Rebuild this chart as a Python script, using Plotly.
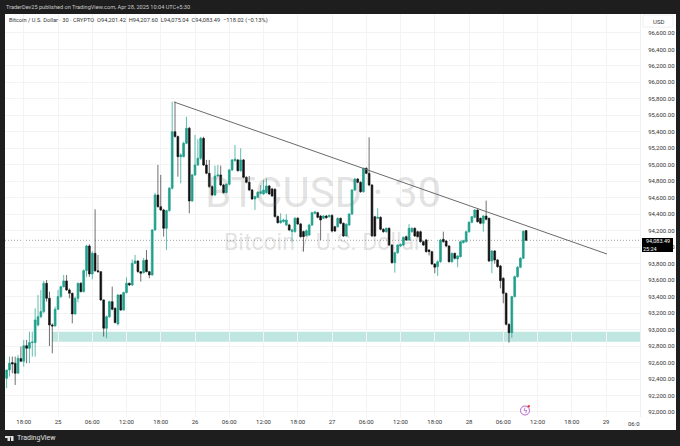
import pandas as pd
import plotly.graph_objects as go

# 30 minute candles, Apr 24 15:00 to Apr 28 10:00
first_candle = "2025-04-24 15:00"

opens = [92409, 92510, 92599, 92591, 92470, 92648, 92615, 92805, 92773, 92842,
         92842, 93056, 93157, 93218, 93562, 93380, 93056, 93044, 93246, 93400,
         93521, 93590, 93481, 93440, 93190, 93380, 93562, 93461, 93715, 94015,
         93675, 93926, 93715, 93703, 93360, 93016, 93157, 93339, 93258, 93068,
         93420, 93238, 93449, 93562, 93541, 93804, 93833, 93703, 93691, 93845,
         93703, 93663, 94209, 94634, 94492, 94452, 94229, 94444, 94715, 95402,
         95342, 95099, 95099, 95261, 95443, 94561, 94877, 94998, 95079, 95321,
         94998, 94897, 94735, 94634, 94864, 94877, 94755, 94662, 94763, 94937,
         95050, 95059, 94929, 95059, 94848, 94788, 94695, 94585, 94605, 94654,
         94646, 94662, 94743, 94707, 94703, 94371, 94298, 94310, 94270, 94270,
         94189, 94189, 94351, 94282, 94189, 94140, 94148, 94269, 94411, 94419,
         94378, 94350, 94378, 94370, 94386, 94249, 94249, 94350, 94289, 94136,
         94269, 94403, 94694, 94827, 94787, 94674, 94957, 94896, 94755, 94370,
         94350, 94362, 94217, 94188, 94229, 94026, 93812, 93933, 94014, 94026,
         94128, 94087, 94188, 94229, 94188, 94188, 94067, 94087, 93966, 93946,
         93796, 93764, 93824, 94095, 94075, 94014, 93824, 93925, 93857, 93885,
         94055, 94067, 94188, 94302, 94362, 94451, 94350, 94290, 94378, 94350,
         93832, 93954, 93845, 93772, 93622, 93440, 93064, 92963, 93400, 93642,
         93756, 93865, 94201.42]

highs = [92510, 92672, 92672, 92672, 92692, 92793, 92874, 92874, 92975, 92975,
         93258, 93420, 93481, 93590, 93602, 93461, 93076, 93279, 93481, 93530,
         93663, 93663, 93500, 93450, 93400, 93570, 93575, 93730, 94030, 94035,
         93950, 94460, 93906, 93710, 93365, 93170, 93350, 93521, 93270, 93430,
         93430, 93460, 93635, 93570, 93850, 93906, 93840, 93710, 93870, 93966,
         93710, 94220, 94660, 94998, 94877, 94465, 94455, 94730, 95766, 95766,
         95355, 95140, 95280, 95584, 95460, 94890, 95362, 95309, 95340, 95340,
         95059, 95059, 94750, 94990, 94998, 94990, 94770, 94775, 94950, 95070,
         95241, 95070, 95200, 95070, 94860, 94864, 94705, 94625, 94680, 94755,
         94816, 94836, 94755, 94720, 94715, 94385, 94411, 94345, 94400, 94285,
         94225, 94365, 94365, 94295, 94200, 94215, 94285, 94430, 94440, 94430,
         94390, 94390, 94390, 94395, 94400, 94260, 94360, 94360, 94300, 94290,
         94412, 94705, 94840, 94840, 94800, 94968, 94970, 95333, 94765, 94380,
         94471, 94375, 94230, 94240, 94240, 94035, 93945, 94035, 94045, 94130,
         94140, 94280, 94240, 94240, 94200, 94200, 94080, 94100, 93975, 93955,
         93805, 93840, 94100, 94188, 94085, 94025, 93935, 93935, 93905, 94080,
         94090, 94200, 94315, 94380, 94460, 94460, 94360, 94390, 94565, 94360,
         93965, 93965, 93855, 93785, 93635, 93450, 93075, 93410, 93655, 93770,
         93880, 94205, 94207.60]

lows = [92288, 92429, 92470, 92328, 92470, 92611, 92550, 92591, 92591, 92672,
        92672, 93036, 93137, 93197, 93340, 92801, 92712, 93036, 93238, 93385,
        93510, 93470, 93380, 93076, 93180, 93330, 93450, 93450, 93640, 93640,
        93610, 93700, 93690, 93350, 92915, 92895, 93140, 93235, 93075, 93050,
        93225, 93230, 93440, 93530, 93530, 93795, 93690, 93582, 93680, 93695,
        93622, 93655, 94200, 94480, 94440, 94128, 93966, 94430, 94700, 95330,
        94856, 94775, 95090, 95250, 94411, 94550, 94865, 94985, 95060, 94985,
        94885, 94720, 94620, 94620, 94850, 94740, 94650, 94650, 94750, 94925,
        95040, 94915, 94915, 94835, 94775, 94680, 94575, 94452, 94595, 94640,
        94635, 94650, 94635, 94610, 94360, 94285, 94285, 94300, 94255, 94195,
        94068, 94175, 94270, 94115, 93946, 94130, 94135, 94255, 94400, 94350,
        94087, 94340, 94345, 94360, 94180, 94185, 94236, 94278, 94125, 94125,
        94258, 94390, 94680, 94775, 94660, 94660, 94885, 94740, 94125, 94125,
        94340, 94205, 94175, 94175, 94015, 93800, 93691, 93920, 94000, 94015,
        94075, 94075, 94175, 94125, 94115, 94055, 94015, 93935, 93900, 93785,
        93683, 93650, 93810, 94055, 94000, 93812, 93812, 93850, 93756, 93875,
        94045, 94055, 94175, 94290, 94350, 94298, 94278, 94188, 94325, 93820,
        93683, 93800, 93750, 93500, 93319, 93050, 92841, 92900, 93390, 93630,
        93745, 93855, 94075.04]

closes = [92510, 92591, 92583, 92470, 92652, 92615, 92805, 92773, 92842, 92850,
          93117, 93157, 93218, 93562, 93380, 93056, 93044, 93246, 93400, 93521,
          93590, 93481, 93440, 93190, 93380, 93562, 93461, 93715, 94015, 93675,
          93926, 93715, 93703, 93360, 93016, 93157, 93339, 93246, 93085, 93420,
          93238, 93449, 93562, 93541, 93804, 93833, 93703, 93683, 93837, 93703,
          93663, 94209, 94634, 94492, 94452, 94229, 94444, 94715, 95402, 95342,
          95099, 95119, 95261, 95443, 94561, 94877, 94998, 95079, 95321, 94998,
          94897, 94735, 94634, 94864, 94877, 94755, 94662, 94763, 94937, 95059,
          95067, 94929, 95059, 94848, 94788, 94695, 94585, 94614, 94666, 94674,
          94695, 94743, 94646, 94622, 94371, 94298, 94322, 94330, 94330, 94209,
          94209, 94351, 94282, 94128, 94128, 94200, 94269, 94419, 94427, 94362,
          94330, 94378, 94358, 94386, 94196, 94196, 94350, 94289, 94136, 94277,
          94403, 94694, 94827, 94787, 94674, 94957, 94896, 94755, 94136, 94136,
          94362, 94217, 94188, 94229, 94026, 93812, 93933, 94026, 94034, 94120,
          94087, 94229, 94229, 94136, 94128, 94067, 94026, 93946, 93946, 93796,
          93756, 93824, 94087, 94067, 94014, 93824, 93925, 93865, 93893, 94067,
          94079, 94188, 94302, 94370, 94451, 94310, 94290, 94378, 94338, 93832,
          93954, 93845, 93764, 93594, 93440, 93064, 92963, 93400, 93642, 93756,
          93865, 94192, 94083.49]

price_ticks = list(range(92000, 96800, 200))

time_ticks = ["2025-04-24 18:00", "2025-04-25 00:00", "2025-04-25 06:00", "2025-04-25 12:00",
              "2025-04-25 18:00", "2025-04-26 00:00", "2025-04-26 06:00", "2025-04-26 12:00",
              "2025-04-26 18:00", "2025-04-27 00:00", "2025-04-27 06:00", "2025-04-27 12:00",
              "2025-04-27 18:00", "2025-04-28 00:00", "2025-04-28 06:00", "2025-04-28 12:00",
              "2025-04-28 18:00", "2025-04-29 00:00"]
time_labels = ["18:00", "25", "06:00", "12:00", "18:00", "26", "06:00", "12:00", "18:00",
               "27", "06:00", "12:00", "18:00", "28", "06:00", "12:00", "18:00", "29"]

trend_x = ["2025-04-25 20:20", "2025-04-29 00:10"]
trend_y = [95762, 93917]

zone_x = ["2025-04-24 23:00", "2025-04-29 05:57"]
zone_y = [92853, 92974]

last_price = 94083.49
x_range = ["2025-04-24 14:43", "2025-04-29 05:57"]
y_range = [91939, 96830]

W, H = 680, 446
DARK = "#1e1e1e"
TEAL = "#1f9f8c"
BLACK = "#111111"
FONT = "Roboto"


# pixel helpers for the frame furniture around the chart
def px(x):
    return x / W


def py(y):
    return 1 - y / H


def label(x, y, text, size=6, color="#333333", anchor="left", family=FONT):
    return dict(x=px(x), y=py(y), xref="paper", yref="paper", text=text, showarrow=False, borderpad=0,
                xanchor=anchor, yanchor="middle", font=dict(size=size, color=color, family=family))


def panel(x0, y0, x1, y1, fill, line=None, kind="rect", layer="below"):
    return dict(type=kind, xref="paper", yref="paper", x0=px(x0), x1=px(x1), y0=py(y0), y1=py(y1),
                fillcolor=fill, line=dict(color=line or fill, width=1 if line else 0), layer=layer)


times = pd.date_range(first_candle, periods=len(opens), freq="30min")

candles = go.Candlestick(
    x=times, open=opens, high=highs, low=lows, close=closes,
    increasing=dict(line=dict(color="rgba(31,159,140,0.7)", width=1), fillcolor=TEAL),
    decreasing=dict(line=dict(color="rgba(17,17,17,0.6)", width=1), fillcolor=BLACK),
    whiskerwidth=0,
    showlegend=False,
    hoverinfo="skip",
)

trend = go.Scatter(x=trend_x, y=trend_y, mode="lines", line=dict(color="#6a6a6a", width=1),
                   showlegend=False, hoverinfo="skip")

fig = go.Figure(data=[candles, trend])

shapes = [
    panel(5, 14, 676, 430, "#ffffff"),
    dict(type="rect", xref="x", yref="y", x0=zone_x[0], x1=zone_x[1], y0=zone_y[0], y1=zone_y[1],
         fillcolor="#bfe6e0", line=dict(width=0), layer="below"),
    dict(type="line", xref="paper", yref="y", x0=px(5), x1=px(640), y0=last_price, y1=last_price,
         line=dict(color="#a0a0a0", width=1, dash="1px,2px"), layer="below"),
    panel(643, 15, 673, 27, "#ffffff", "#efefef"),
    panel(642, 238, 673, 252, "#000000", layer="above"),
    # TradingView logo
    panel(5, 436, 10, 438, "#e0e0e0", layer="above"),
    panel(7.5, 436, 10, 441, "#e0e0e0", layer="above"),
    panel(10, 436, 11.5, 437.5, "#e0e0e0", kind="circle", layer="above"),
    panel(11, 441, 13.5, 436, "#e0e0e0", layer="above"),
    # lightning badge
    panel(520.5, 406, 529.5, 415, "#ffffff", "#b65fd0", kind="circle", layer="above"),
    panel(527.5, 405, 530, 407.5, "#e5403a", kind="circle", layer="above"),
]

annotations = [
    label(5, 7, "TraderDev25 published on TradingView.com, Apr 28, 2025 10:04 UTC+5:30", size=5.6, color="#c8c8c8"),
    label(8, 20, "Bitcoin / U.S. Dollar · 30 · CRYPTO&nbsp;&nbsp;O94,201.42&nbsp;&nbsp;H94,207.60"
                 "&nbsp;&nbsp;L94,075.04&nbsp;&nbsp;C94,083.49&nbsp;&nbsp;−118.02 (−0.13%)", size=5.7),
    label(323, 192, "BTCUSD · 30", size=42, color="rgba(110,110,110,0.2)", anchor="center"),
    label(323, 242, "Bitcoin / U.S. Dollar", size=23, color="rgba(110,110,110,0.2)", anchor="center"),
    label(658, 21, "USD", anchor="center"),
    label(657.5, 241, "94,083.49", size=5.5, color="#ffffff", anchor="center"),
    label(650, 248.5, "25:24", size=5.5, color="#ffffff", anchor="center"),
    label(641, 423, "06:0", anchor="right"),
    label(16, 438, "TradingView", size=7, color="#e0e0e0"),
    label(525, 410.5, "ϟ", size=7, color="#a040c0", anchor="center", family="DejaVu Sans"),
]

fig.update_layout(
    width=W, height=H, autosize=False,
    margin=dict(l=0, r=0, t=0, b=0),
    paper_bgcolor=DARK,
    plot_bgcolor="rgba(0,0,0,0)",
    font=dict(family=FONT, size=6, color="#333333"),
    shapes=shapes,
    annotations=annotations,
    boxgap=0.1,
    xaxis=dict(
        domain=[px(5), px(640)], range=x_range, type="date",
        tickvals=time_ticks, ticktext=time_labels, tickangle=0,
        rangeslider=dict(visible=False),
        showgrid=True, gridcolor="#f3f3f3", gridwidth=1,
        ticks="", zeroline=False, showline=False,
        tickfont=dict(size=6, color="#333333"),
    ),
    yaxis=dict(
        domain=[py(417), py(14)], range=y_range, side="right",
        tickvals=price_ticks, tickformat=",.2f",
        showgrid=True, gridcolor="#f3f3f3", gridwidth=1,
        ticks="", zeroline=False,
        showline=True, linecolor="#f0f0f0", linewidth=1,
        ticklabelstandoff=6,
        tickfont=dict(size=6, color="#333333"),
    ),
)

# the page's default 8px body margin would push the figure out of the window
fig.write_html("out.html", config=dict(displayModeBar=False),
               post_script="document.body.style.margin='0';document.body.style.overflow='hidden';")
